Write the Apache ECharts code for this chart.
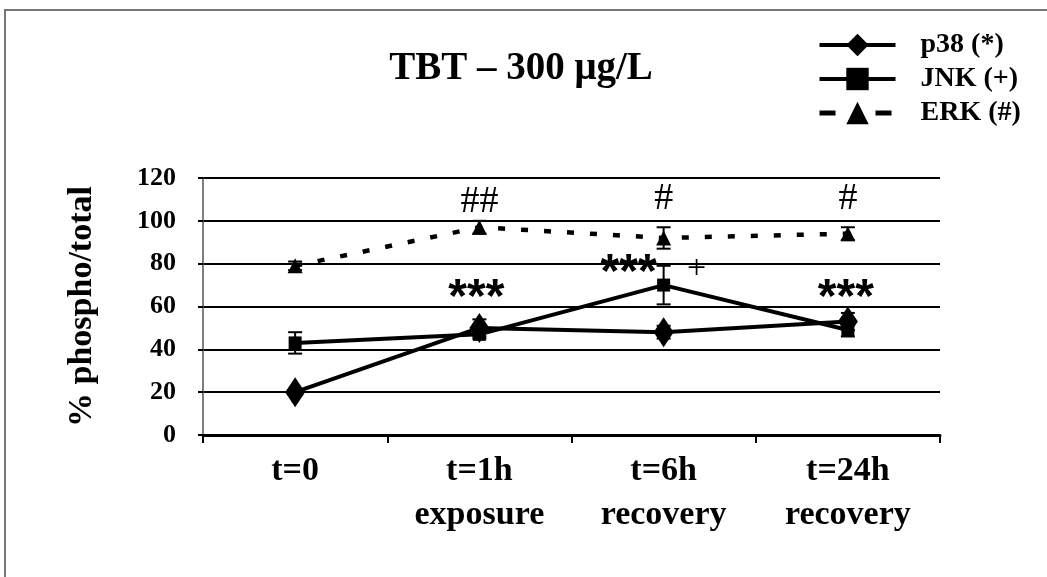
<!DOCTYPE html>
<html>
<head>
<meta charset="utf-8">
<script src="https://cdn.jsdelivr.net/npm/echarts@6/dist/echarts.min.js"></script>
<style>
html,body{margin:0;padding:0;background:#fff;}
#chart{width:1047px;height:577px;}
</style>
</head>
<body>
<div id="chart"></div>
<script>
// ---- data ----
const categories = ['t=0', 't=1h\nexposure', 't=6h\nrecovery', 't=24h\nrecovery'];
const p38 = [20, 50, 48, 53];
const p38Err = [1, 4, 3, 4];
const jnk = [43, 47, 70, 49];
const jnkErr = [5, 2, 9, 3];
const erk = [79, 97, 92, 94];
const erkErr = [2, 3, 5, 3];
const yTicks = [0, 20, 40, 60, 80, 100, 120];
const seriesNames = ['p38 (*)', 'JNK (+)', 'ERK (#)'];
// significance annotations: category index, value level, text
const annotCats = [1, 2, 3, 1, 2, 2, 3];
const annotValues = [109, 110, 110, 63.5, 75.5, 77.5, 63.5];
const annotTexts = ['##', '#', '#', '***', '***', '+', '***'];

// ---- layout / style ----
const annotDx = [0, 0, 0, -3, -35, 33, -2];
const annotFont = t => t.indexOf('*') >= 0
  ? 'bold 48px "Liberation Sans", Arial, sans-serif'
  : (t === '+' ? '34px "Liberation Serif", serif' : '38px "Liberation Serif", serif');
const serif = '"Liberation Serif", "Times New Roman", serif';

function errSeries(vals, errs) {
  return {
    type: 'custom', silent: true, z: 4,
    data: vals.map((v, i) => [i, v, errs[i]]),
    renderItem(params, api) {
      const x = api.value(0), v = api.value(1), e = api.value(2);
      const t = api.coord([x, v + e]), b = api.coord([x, v - e]);
      const hw = 7, st = {stroke: '#000', lineWidth: 2};
      return {type: 'group', children: [
        {type: 'line', shape: {x1: t[0], y1: t[1], x2: b[0], y2: b[1]}, style: st},
        {type: 'line', shape: {x1: t[0] - hw, y1: t[1], x2: t[0] + hw, y2: t[1]}, style: st},
        {type: 'line', shape: {x1: b[0] - hw, y1: b[1], x2: b[0] + hw, y2: b[1]}, style: st}
      ]};
    }
  };
}

const chart = echarts.init(document.getElementById('chart'));
chart.setOption({
  animation: false,
  backgroundColor: '#fff',
  graphic: [
    {type: 'rect', shape: {x: 5, y: 10, width: 1200, height: 800}, style: {fill: 'none', stroke: '#777', lineWidth: 2}, z: -10},
    {type: 'text', x: 521, y: 69, style: {text: 'TBT – 300 μg/L', font: 'bold 39px ' + serif, fill: '#000', textAlign: 'center', textVerticalAlign: 'middle'}}
  ],
  legend: {
    data: [
      {name: seriesNames[0]},
      {name: seriesNames[1]},
      {name: seriesNames[2], lineStyle: {type: [16, 40], width: 5}}
    ],
    orient: 'vertical',
    left: 812, top: 26,
    itemWidth: 76, itemHeight: 28, itemGap: 6,
    lineStyle: {width: 4},
    textStyle: {fontFamily: serif, fontWeight: 'bold', fontSize: 28, color: '#000', padding: [0, 0, 0, 20]}
  },
  grid: {left: 203, right: 107, top: 178, bottom: 142},
  xAxis: {
    type: 'category', data: categories, boundaryGap: true,
    axisLine: {lineStyle: {color: '#000', width: 3}},
    axisTick: {show: true, length: 8, lineStyle: {color: '#000', width: 2}},
    axisLabel: {fontFamily: serif, fontWeight: 'bold', fontSize: 34, color: '#000', lineHeight: 44, margin: 14}
  },
  yAxis: {
    type: 'value', min: 0, max: 120, interval: 20,
    name: '% phospho/total', nameLocation: 'middle', nameRotate: 90, nameGap: 104,
    nameTextStyle: {fontFamily: serif, fontWeight: 'bold', fontSize: 34, color: '#000'},
    axisLine: {show: true, lineStyle: {color: '#555', width: 1.5}},
    axisTick: {show: true, length: 5, lineStyle: {color: '#000', width: 2}},
    splitLine: {lineStyle: {color: '#000', width: 2}},
    axisLabel: {fontFamily: serif, fontWeight: 'bold', fontSize: 26, color: '#000', margin: 27,
      formatter: v => yTicks.indexOf(v) >= 0 ? String(v) : ''}
  },
  series: [
    {name: seriesNames[0], type: 'line', data: p38, z: 5,
     symbol: 'diamond', symbolSize: [20, 30],
     lineStyle: {color: '#000', width: 4}, itemStyle: {color: '#000'}},
    {name: seriesNames[1], type: 'line', data: jnk, z: 5,
     symbol: 'rect', symbolSize: 13,
     lineStyle: {color: '#000', width: 4}, itemStyle: {color: '#000'}},
    {name: seriesNames[2], type: 'line', data: erk, z: 5,
     symbol: 'triangle', symbolSize: [15, 15],
     lineStyle: {color: '#000', width: 4.5, type: [7, 16]}, itemStyle: {color: '#000'}},
    errSeries(p38, p38Err),
    errSeries(jnk, jnkErr),
    errSeries(erk, erkErr),
    {
      type: 'custom', silent: true, z: 6,
      data: annotCats.map((c, i) => [c, annotValues[i], i]),
      renderItem(params, api) {
        const i = api.value(2);
        const p = api.coord([api.value(0), api.value(1)]);
        return {type: 'text', x: p[0] + annotDx[i], y: p[1],
          style: {text: annotTexts[i], font: annotFont(annotTexts[i]), fill: '#000', textAlign: 'center', textVerticalAlign: 'middle'}};
      }
    }
  ]
});
</script>
</body>
</html>
